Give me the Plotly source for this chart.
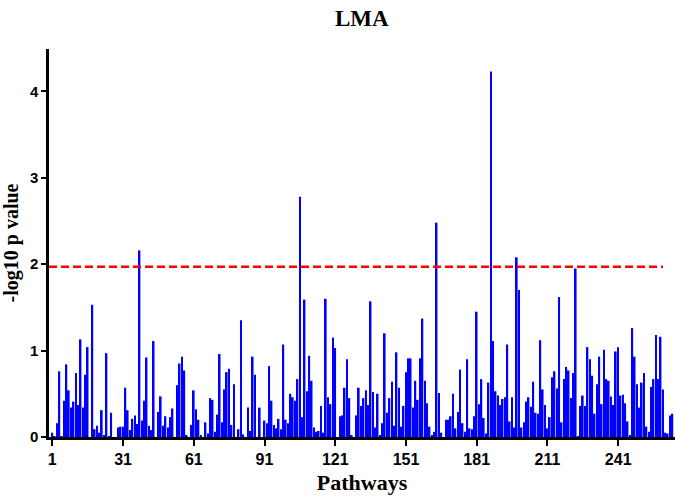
import plotly.graph_objects as go

values = [
    0.05, 0.01, 0.16, 0.76, 0.01, 0.42, 0.84, 0.54, 0.34, 0.41,
    0.74, 0.37, 1.13, 0.34, 0.72, 1.04, 0.00, 1.53, 0.09, 0.13,
    0.05, 0.31, 0.02, 0.97, 0.01, 0.28, 0.00, 0.00, 0.11, 0.12,
    0.12, 0.57, 0.31, 0.08, 0.21, 0.25, 0.15, 2.16, 0.19, 0.42,
    0.92, 0.13, 0.08, 1.11, 0.00, 0.29, 0.47, 0.13, 0.24, 0.11,
    0.23, 0.33, 0.00, 0.60, 0.85, 0.93, 0.77, 0.02, 0.00, 0.14,
    0.54, 0.32, 0.20, 0.02, 0.00, 0.17, 0.04, 0.45, 0.43, 0.06,
    0.26, 0.96, 0.17, 0.55, 0.75, 0.79, 0.14, 0.61, 0.00, 0.09,
    1.35, 0.03, 0.00, 0.34, 0.07, 0.93, 0.72, 0.00, 0.34, 0.00,
    0.19, 0.16, 0.82, 0.42, 0.14, 0.10, 0.21, 0.09, 1.07, 0.20,
    0.16, 0.50, 0.46, 0.42, 0.67, 2.78, 0.23, 1.59, 0.53, 0.94,
    0.65, 0.11, 0.06, 0.07, 0.36, 0.05, 1.60, 0.46, 0.38, 1.15,
    1.03, 0.00, 0.24, 0.25, 0.57, 0.90, 0.45, 0.02, 0.00, 0.25,
    0.57, 0.36, 0.45, 0.54, 0.37, 1.57, 0.52, 0.11, 0.50, 0.02,
    0.16, 1.20, 0.28, 0.45, 0.64, 0.13, 0.98, 0.57, 0.12, 0.36,
    0.75, 0.91, 0.91, 0.34, 0.65, 0.43, 0.91, 1.37, 0.65, 0.39,
    0.12, 0.02, 0.06, 2.48, 0.51, 0.05, 0.00, 0.20, 0.20, 0.24,
    0.50, 0.10, 0.29, 0.78, 0.16, 0.06, 0.90, 0.10, 0.09, 0.24,
    1.45, 0.38, 0.67, 0.22, 0.04, 0.63, 4.23, 1.11, 0.53, 0.48,
    0.37, 0.44, 0.46, 1.07, 0.18, 0.46, 0.11, 2.08, 1.70, 0.11,
    0.17, 0.41, 0.46, 0.35, 0.64, 0.28, 0.27, 1.12, 0.55, 0.37,
    0.10, 0.23, 0.69, 0.76, 0.56, 1.62, 0.17, 0.67, 0.81, 0.77,
    0.45, 0.74, 1.95, 0.01, 0.36, 0.48, 0.36, 1.04, 0.90, 0.71,
    0.27, 0.61, 0.93, 0.38, 1.01, 0.67, 0.65, 0.47, 0.37, 0.99,
    1.04, 0.48, 0.49, 0.39, 0.18, 0.02, 1.26, 0.93, 0.61, 0.34,
    0.63, 0.74, 0.12, 0.06, 0.58, 0.67, 1.18, 0.67, 1.16, 0.55,
    0.05, 0.04, 0.25, 0.27,
]
pathways = list(range(1, len(values) + 1))
x_tick_vals = [1, 31, 61, 91, 121, 151, 181, 211, 241]
y_tick_vals = [0, 1, 2, 3, 4]
threshold = 1.97
threshold_end = 260

fig = go.Figure()
fig.add_trace(go.Bar(
    x=pathways, y=values,
    marker=dict(color="rgb(0,0,255)", line=dict(width=0)),
    showlegend=False,
))
fig.add_shape(type="line", xref="x", yref="y",
              x0=-0.4, x1=threshold_end, y0=threshold, y1=threshold,
              line=dict(color="rgb(255,0,0)", width=2.5, dash="8px,4px"))

axis_font = dict(family="Liberation Sans", size=15, color="black", weight="bold")
fig.update_layout(
    width=675, height=499,
    margin=dict(l=49, r=0, t=49, b=62),
    plot_bgcolor="white", paper_bgcolor="white",
    bargap=0.3,
    title=dict(text="LMA", x=0.536, xanchor="center", y=0.965, yanchor="middle",
               font=dict(family="Liberation Serif", size=23, color="black", weight="bold")),
    xaxis=dict(range=[-0.4, 265.1], tickvals=x_tick_vals, ticks="outside", ticklen=6,
               tickwidth=2, tickcolor="black", showline=True, linecolor="black", linewidth=2.5,
               showgrid=False, zeroline=False, tickfont=dict(axis_font, size=16),
               title=dict(text="Pathways", standoff=8,
                          font=dict(family="Liberation Serif", size=22, color="black", weight="bold"))),
    yaxis=dict(range=[0, 4.49], tickvals=y_tick_vals, ticks="outside", ticklen=5,
               tickwidth=2, tickcolor="black", showline=True, linecolor="black", linewidth=2.5,
               showgrid=False, zeroline=False, tickfont=axis_font,
               title=dict(text="-log10 p value", standoff=6,
                          font=dict(family="Liberation Serif", size=20, color="black", weight="bold"))),
)
fig.write_html("out.html", config={"displayModeBar": False},
               post_script="document.body.style.margin='0';document.body.style.overflow='hidden';")
